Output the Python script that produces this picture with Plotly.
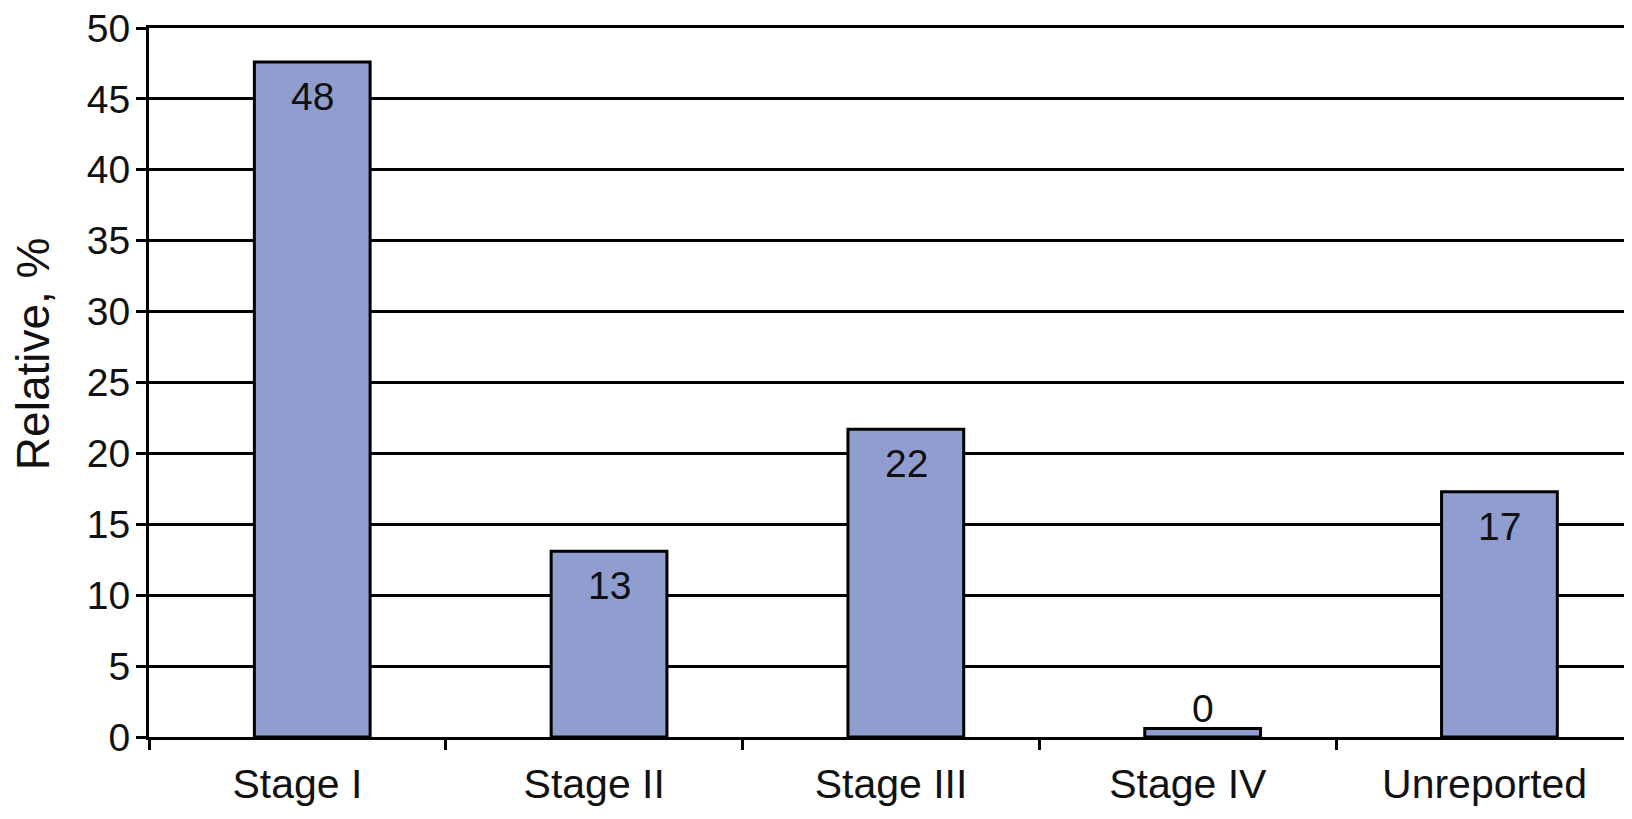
import plotly.graph_objects as go

categories = ["Stage I", "Stage II", "Stage III", "Stage IV", "Unreported"]
values = [47.6, 13.1, 21.7, 0.6, 17.3]
labels = ["48", "13", "22", "0", "17"]
y_ticks = [0, 5, 10, 15, 20, 25, 30, 35, 40, 45, 50]

FONT = "Liberation Sans, Arial, Helvetica, sans-serif"
BAR_COLOR = "#909ecf"
TXT = "#111111"
BAR_W = 0.39
BAR_SHIFT_PX = 15

fig = go.Figure()
fig.add_trace(go.Bar(
    x=categories,
    y=values,
    width=BAR_W,
    offset=-BAR_W / 2 + 0.05,
    marker=dict(color=BAR_COLOR, line=dict(color="black", width=3)),
    hoverinfo="skip",
))

for c, v, t in zip(categories, values, labels):
    small = v < 5
    fig.add_annotation(
        x=c, y=v, text=t, showarrow=False,
        xshift=BAR_SHIFT_PX,
        yanchor="bottom" if small else "top",
        yshift=-4 if small else -11,
        font=dict(family=FONT, size=39, color=TXT),
    )

fig.add_annotation(
    xref="paper", yref="paper", x=0, y=0.54,
    xshift=-116, xanchor="center", yanchor="middle",
    text="Relative, %", textangle=-90, showarrow=False,
    borderpad=0,
    font=dict(family=FONT, size=46, color=TXT),
)

fig.update_layout(
    width=1632, height=819,
    margin=dict(l=141, r=7, t=20, b=90),
    paper_bgcolor="white", plot_bgcolor="white",
    showlegend=False,
    font=dict(family=FONT, color=TXT),
)

fig.update_xaxes(
    type="category",
    automargin=False,
    showline=True, linecolor="black", linewidth=3, mirror=True,
    ticks="outside", tickson="boundaries", ticklen=10, tickwidth=3, tickcolor="black",
    tickfont=dict(family=FONT, size=41, color=TXT),
    ticklabelstandoff=9,
    ticklabeloverflow="allow",
    showgrid=False,
)
fig.update_yaxes(
    range=[0, 50],
    tickvals=y_ticks,
    automargin=False,
    showline=True, linecolor="black", linewidth=3, mirror=True,
    ticks="outside", ticklen=10, tickwidth=3, tickcolor="black",
    tickfont=dict(family=FONT, size=39, color=TXT),
    ticklabelstandoff=-2,
    ticklabeloverflow="allow",
    showgrid=True, gridcolor="black", gridwidth=3,
    zeroline=False,
)

fig.write_html("out.html")
